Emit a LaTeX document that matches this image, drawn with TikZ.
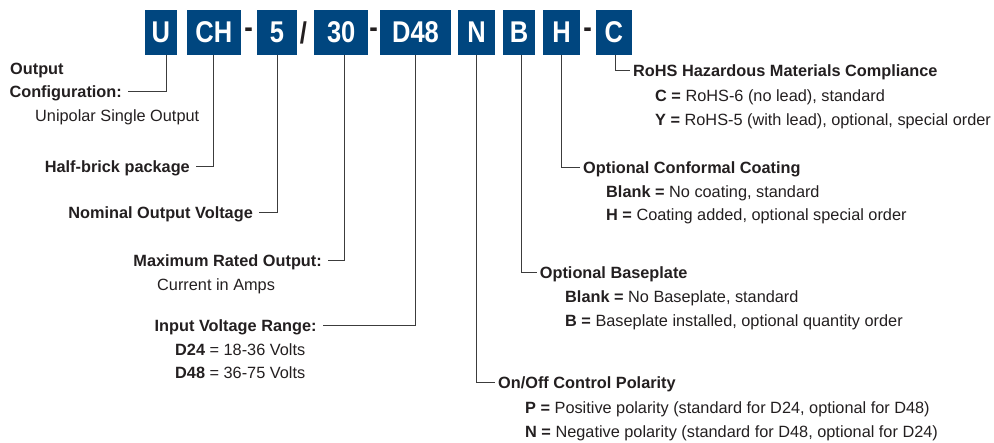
\documentclass[tikz,border=0pt]{standalone}
\usepackage{fontspec}
\setmainfont{Liberation Sans}
\newfontfamily\codefont[FakeStretch=0.85]{Liberation Sans}
\definecolor{codeblue}{RGB}{0,70,127}
\definecolor{ink}{RGB}{35,31,32}
\definecolor{leadgray}{RGB}{60,60,60}
\tikzset{
 codebox/.style={fill=codeblue,text=white,minimum height=45bp,inner sep=0pt,
  font=\codefont\bfseries\fontsize{30bp}{30bp}\selectfont},
 codesep/.style={text=ink,inner sep=0pt,font=\codefont\bfseries\fontsize{30bp}{30bp}\selectfont},
 lbl/.style={text=ink,inner ysep=0pt,inner xsep=0pt,text height=12bp,text depth=0pt,
  font=\fontsize{16.3bp}{20bp}\selectfont},
 ltitle/.style={lbl,inner xsep=6bp,anchor=east,font=\bfseries\fontsize{16.3bp}{20bp}\selectfont},
 rtitle/.style={lbl,inner xsep=3bp,anchor=west,font=\bfseries\fontsize{16.3bp}{20bp}\selectfont},
 sub/.style={lbl,anchor=west},
 leader/.style={draw=leadgray,line width=1bp}
}
\begin{document}
\begin{tikzpicture}[x=1bp,y=-1bp]
 \useasboundingbox (0,0) rectangle (994,443);
 % code boxes
 \node[codebox,minimum width=31.7bp] (ubox) at (160.8,32.5) {U};
 \node[codebox,minimum width=54.3bp] (chbox) at (213.8,32.5) {CH};
 \node[codesep] (sepa) at (248.5,33) {-};
 \node[codebox,minimum width=39.4bp] (vbox) at (277,32.5) {5};
 \node[codesep] (sepb) at (303.5,33) {/};
 \node[codebox,minimum width=54.3bp] (abox) at (341.2,32.5) {30};
 \node[codesep] (sepc) at (373.5,33) {-};
 \node[codebox,minimum width=71bp] (dbox) at (415.5,32.5) {D48};
 \node[codebox,minimum width=36.7bp] (nbox) at (476.7,32.5) {N};
 \node[codebox,minimum width=31.7bp] (bbox) at (519.2,32.5) {B};
 \node[codebox,minimum width=36.7bp] (hbox) at (561.7,32.5) {H};
 \node[codesep] (sepd) at (587.5,33) {-};
 \node[codebox,minimum width=35.7bp] (cbox) at (613.8,32.5) {C};

 % left labels
 \node[sub,font=\bfseries\fontsize{16.3bp}{20bp}\selectfont] (cfgtop) at (10,68.5) {Output};
 \node[ltitle] (cfg) at (128,92) {Configuration:};
 \node[sub] (cfgsub) at (35,115.5) {Unipolar Single Output};
 \node[ltitle] (pkg) at (196,167) {Half-brick package};
 \node[ltitle] (vout) at (259,213) {Nominal Output Voltage};
 \node[ltitle] (iout) at (328,261) {Maximum Rated Output:};
 \node[sub] (ioutsub) at (157,285) {Current in Amps};
 \node[ltitle] (vin) at (322.7,326) {Input Voltage Range:};
 \node[sub] (vina) at (175,350) {\textbf{D24} = 18-36 Volts};
 \node[sub] (vinb) at (175,373) {\textbf{D48} = 36-75 Volts};

 % right labels
 \node[rtitle] (rohs) at (630,71) {RoHS Hazardous Materials Compliance};
 \node[sub] (rohsa) at (655,96) {\textbf{C =} RoHS-6 (no lead), standard};
 \node[sub] (rohsb) at (655,119.5) {\textbf{Y =} RoHS-5 (with lead), optional, special order};
 \node[rtitle] (coat) at (580,168) {Optional Conformal Coating};
 \node[sub] (coata) at (606,191.7) {\textbf{Blank =} No coating, standard};
 \node[sub] (coatb) at (606,215) {\textbf{H =} Coating added, optional special order};
 \node[rtitle] (base) at (536.7,273) {Optional Baseplate};
 \node[sub] (basea) at (565,297) {\textbf{Blank =} No Baseplate, standard};
 \node[sub] (baseb) at (565,321) {\textbf{B =} Baseplate installed, optional quantity order};
 \node[rtitle] (pol) at (495,383) {On/Off Control Polarity};
 \node[sub] (pola) at (525,407) {\textbf{P =} Positive polarity (standard for D24, optional for D48)};
 \node[sub] (polb) at (525,431) {\textbf{N =} Negative polarity (standard for D48, optional for D24)};

 % leaders
 \draw[leader] ([xshift=6bp]ubox.south) |- (cfg.east);
 \draw[leader] (chbox.south) |- (pkg.east);
 \draw[leader] (vbox.south) |- (vout.east);
 \draw[leader] ([xshift=3bp]abox.south) |- (iout.east);
 \draw[leader] (dbox.south) |- (vin.east);
 \draw[leader] (nbox.south) |- (pol.west);
 \draw[leader] ([xshift=2.5bp]bbox.south) |- (base.west);
 \draw[leader] (hbox.south) |- (coat.west);
 \draw[leader] ([xshift=1.2bp]cbox.south) |- (rohs.west);
\end{tikzpicture}
\end{document}
